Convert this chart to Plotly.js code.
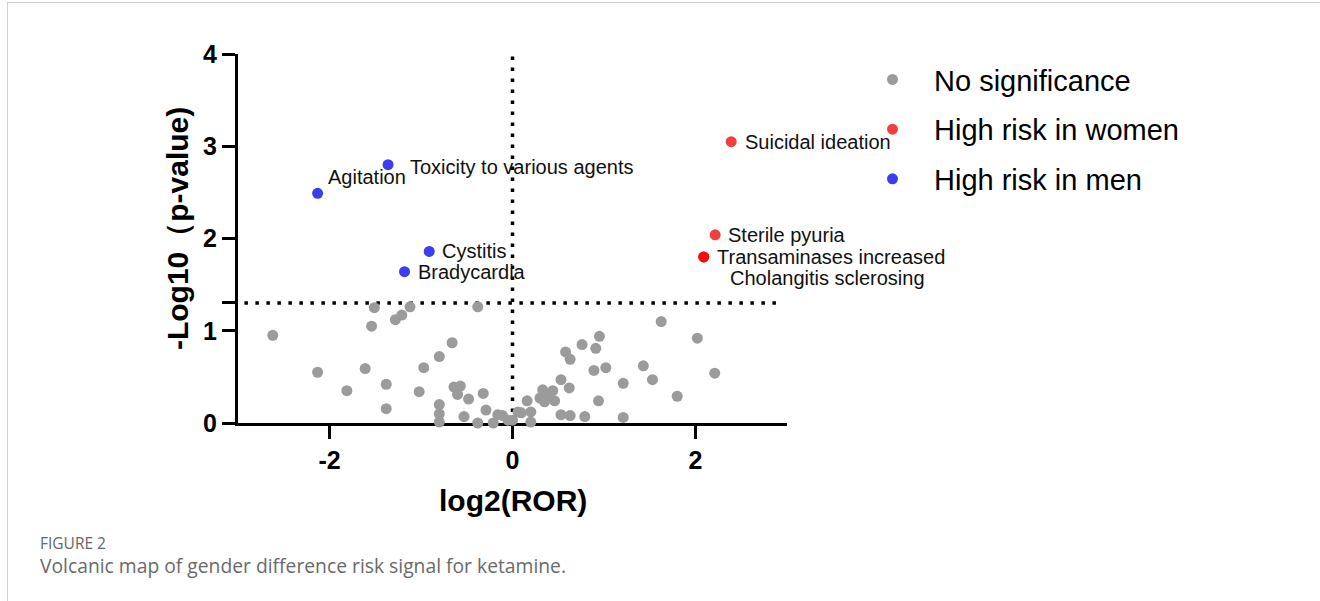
<!DOCTYPE html>
<html>
<head>
<meta charset="utf-8">
<script src="https://cdn.plot.ly/plotly-3.0.1.min.js"></script>
<style>
  html, body { margin: 0; padding: 0; background: #fff; }
  #wrap { position: relative; width: 1320px; height: 601px; overflow: hidden; }
  #frame { position: absolute; left: 7px; top: 2px; width: 1320px; height: 610px;
           border-left: 1px solid #d0d0d0; border-top: 1px solid #d0d0d0; }
  #chart { position: absolute; left: 0; top: 0; width: 1320px; height: 601px; }
  .cap1 { position: absolute; left: 40px; top: 535px; height: 17px; line-height: 17px;
          font-family: "Open Sans", "Noto Sans", sans-serif; font-size: 15.5px; color: #666; white-space: nowrap; }
  .cap2 { position: absolute; left: 40px; top: 555px; height: 21px; line-height: 21px;
          font-family: "Open Sans", "Noto Sans", sans-serif; font-size: 19.3px; color: #6a6a6a; white-space: nowrap; }
</style>
</head>
<body>
<div id="wrap">
  <div id="frame"></div>
  <div id="chart"></div>
  <div class="cap1">FIGURE 2</div>
  <div class="cap2">Volcanic map of gender difference risk signal for ketamine.</div>
</div>
<script>
// ---------------- data ----------------
const grayX = [-2.62, -2.13, -1.81, -1.61, -1.51, -1.54, -1.38, -1.38, -1.28, -1.21, -1.12, -1.02, -0.97,
  -0.80, -0.66, -0.80, -0.80, -0.80, -0.64, -0.57, -0.60, -0.48, -0.53, -0.38, -0.32, -0.29, -0.38,
  -0.21, -0.16, -0.11, -0.05, 0.00, 0.06,
  1.625, 2.02, 2.21, 1.80, 1.53, 1.43, 1.21, 1.21, 0.95, 0.91, 0.76, 1.02, 0.89, 0.94, 0.79,
  0.58, 0.63, 0.53, 0.62, 0.63, 0.53, 0.33, 0.44, 0.39, 0.30, 0.46, 0.35, 0.16, 0.095, 0.20, 0.20];
const grayY = [0.95, 0.55, 0.35, 0.59, 1.25, 1.05, 0.42, 0.155, 1.12, 1.17, 1.26, 0.34, 0.60,
  0.72, 0.87, 0.20, 0.10, 0.01, 0.39, 0.40, 0.31, 0.26, 0.07, 1.26, 0.32, 0.14, 0.00,
  0.00, 0.09, 0.08, 0.03, 0.03, 0.12,
  1.10, 0.92, 0.54, 0.29, 0.47, 0.62, 0.43, 0.06, 0.94, 0.81, 0.85, 0.60, 0.57, 0.24, 0.07,
  0.77, 0.69, 0.47, 0.38, 0.08, 0.09, 0.36, 0.35, 0.30, 0.27, 0.24, 0.23, 0.24, 0.11, 0.12, 0.01];

const womenNames = ["Suicidal ideation", "Sterile pyuria", "Transaminases increased", "Cholangitis sclerosing"];
const womenX = [2.39, 2.215, 2.09, 2.09];
const womenY = [3.05, 2.04, 1.80, 1.80];

const menNames = ["Agitation", "Toxicity to various agents", "Cystitis", "Bradycardia"];
const menX = [-2.13, -1.36, -0.91, -1.18];
const menY = [2.49, 2.80, 1.86, 1.64];

const seriesNames = ["No significance", "High risk in women", "High risk in men"];
const xTickVals = [-2, 0, 2];
const xTickText = ["-2", "0", "2"];
const yTickVals = [0, 1, 1.301, 2, 3, 4];
const yTickText = ["0", "1", "", "2", "3", "4"];
const pThreshold = 1.301;   // -log10(0.05)
const rorThreshold = 0;

const xTitle = "log2(ROR)";
const yTitle = "-Log10（p-value)";

// ---------------- styles ----------------
const FONT = "Liberation Sans, Arial, sans-serif";
const colGray = "#9b9b9b";
const colRed = "rgba(240,0,0,0.76)";
const colBlue = "#3c3cf0";
const mSize = 11;

// label offsets in pixels (xshift, yshift) for each labelled point
const womenOffsets = [[13, 0], [12, 0], [12, 0], [25, -21]];
const menOffsets = [[9, 16], [21, -2], [12, 0], [12, 0]];

const traces = [
  { type: "scatter", mode: "markers", x: grayX, y: grayY, name: seriesNames[0], cliponaxis: false,
    marker: { color: colGray, size: mSize }, legendgroup: "g1" },
  { type: "scatter", mode: "markers", x: womenX, y: womenY, name: seriesNames[1], cliponaxis: false,
    marker: { color: colRed, size: mSize }, legendgroup: "g2" },
  { type: "scatter", mode: "markers", x: menX, y: menY, name: seriesNames[2], cliponaxis: false,
    marker: { color: colBlue, size: mSize }, legendgroup: "g3" }
];

const annotations = [];
function addLabels(names, xs, ys, offs) {
  names.forEach((n, i) => {
    annotations.push({ x: xs[i], y: ys[i], xref: "x", yref: "y", text: n, showarrow: false,
      xanchor: "left", yanchor: "middle", xshift: offs[i][0], yshift: offs[i][1], borderpad: 0,
      font: { family: FONT, size: 20, color: "#111" } });
  });
}
addLabels(womenNames, womenX, womenY, womenOffsets);
addLabels(menNames, menX, menY, menOffsets);

annotations.push({ text: yTitle, xref: "paper", yref: "paper", x: -0.109, y: 0.526, showarrow: false,
  textangle: -90, xanchor: "center", yanchor: "middle",
  font: { family: FONT, size: 30, color: "#000", weight: "bold" } });
annotations.push({ text: xTitle, xref: "paper", yref: "paper", x: 0.5, y: -0.209, showarrow: false,
  xanchor: "center", yanchor: "middle",
  font: { family: FONT, size: 30, color: "#000", weight: "bold" } });

const dotLine = { color: "#000", width: 3.5, dash: "3.5px,7.5px" };
const shapes = [
  { type: "line", xref: "x", yref: "y", x0: -2.93, x1: 2.9, y0: pThreshold, y1: pThreshold, line: dotLine, layer: "below" },
  { type: "line", xref: "x", yref: "y", x0: rorThreshold, x1: rorThreshold, y0: 0, y1: 4, line: dotLine, layer: "below" }
];

const layout = {
  width: 1320, height: 601,
  margin: { l: 238, r: 533, t: 54, b: 178 },
  paper_bgcolor: "rgba(0,0,0,0)", plot_bgcolor: "rgba(0,0,0,0)",
  font: { family: FONT, color: "#000" },
  showlegend: true,
  legend: { xref: "container", yref: "container", x: 0.6447, y: 0.91, xanchor: "left", yanchor: "top",
    font: { family: FONT, size: 29, color: "#000" }, traceorder: "grouped", tracegroupgap: 9,
    itemwidth: 73, bgcolor: "rgba(0,0,0,0)" },
  xaxis: { range: [-3, 3], showgrid: false, zeroline: false, showline: true, linecolor: "#000", linewidth: 3,
    ticks: "outside", ticklen: 13, tickwidth: 3, tickcolor: "#000", tickvals: xTickVals, ticktext: xTickText,
    tickfont: { family: FONT, size: 25, color: "#000", weight: "bold" }, layer: "below traces" },
  yaxis: { range: [0, 4], showgrid: false, zeroline: false, showline: true, linecolor: "#000", linewidth: 3,
    ticks: "outside", ticklen: 13, tickwidth: 3, tickcolor: "#000", tickvals: yTickVals, ticktext: yTickText,
    tickfont: { family: FONT, size: 25, color: "#000", weight: "bold" }, layer: "below traces" },
  shapes: shapes,
  annotations: annotations
};

Plotly.newPlot("chart", traces, layout, { staticPlot: true, displayModeBar: false });
</script>
</body>
</html>
